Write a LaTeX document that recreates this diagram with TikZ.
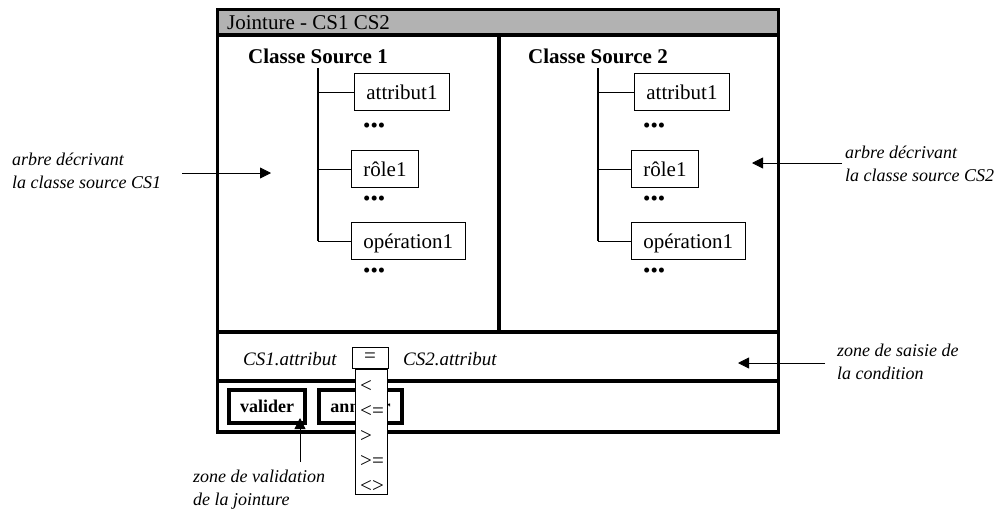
\documentclass[tikz,border=0pt]{standalone}
\usepackage{fontspec}
\setmainfont{Liberation Serif}
\usetikzlibrary{arrows.meta,positioning,calc}

\begin{document}
\begin{tikzpicture}[x=1pt,y=-1pt,>={Triangle[length=11pt,width=11pt]},
  frame/.style={line width=3.5pt},
  item/.style={draw,line width=0.8pt,anchor=west,font=\fontsize{21}{25}\selectfont,
    text height=15pt,text depth=0pt,minimum height=37pt,inner xsep=12pt},
  dots/.style={anchor=west,inner sep=0pt,font=\fontsize{21}{25}\selectfont},
  note/.style={align=left,anchor=base west,inner sep=0pt,font=\fontsize{18}{23}\selectfont\itshape},
  button/.style={draw,line width=3.5pt,minimum height=33pt,inner sep=0pt,
    font=\fontsize{18}{22}\selectfont\bfseries},
  choice/.style={anchor=west,inner sep=0pt,font=\fontsize{21}{25}\selectfont}]
  \useasboundingbox (0,0) rectangle (997,509);
  \draw[frame,fill=black!30] (217.5,9.5) rectangle (778.5,35);
  \node[anchor=base west,inner sep=0pt,font=\fontsize{21}{25}\selectfont] (title) at (227,29) {Jointure - CS1 CS2};
  \draw[frame] (217.5,35) rectangle (778.5,432);
  \draw[frame] (499,35) -- (499,332);
  \draw[frame] (217.5,332) -- (778.5,332);
  \draw[frame] (217.5,381) -- (778.5,381);
  \foreach \i/\dx in {1/0,2/280} {
    \node[anchor=base west,inner sep=0pt,font=\fontsize{21}{25}\selectfont\bfseries] (cs\i) at (248+\dx,63) {Classe Source \i};
    \node[item] (att\i) at (354+\dx,92) {attribut1};
    \node[item] (role\i) at (351+\dx,169) {rôle1};
    \node[item] (op\i) at (351+\dx,241) {opération1};
    \node[dots] (d\i a) at (363+\dx,128) {\textbullet\textbullet\textbullet};
    \node[dots] (d\i b) at (363+\dx,201) {\textbullet\textbullet\textbullet};
    \node[dots] (d\i c) at (363+\dx,273) {\textbullet\textbullet\textbullet};
    \coordinate (top\i) at (318+\dx,68);
    \coordinate (bot\i) at (318+\dx,241);
    \draw[line width=1.3pt] (top\i) -- (bot\i);
    \draw[line width=0.8pt] (top\i |- att\i) -- (att\i);
    \draw[line width=0.8pt] (top\i |- role\i) -- (role\i);
    \draw[line width=0.8pt] (bot\i) -- (op\i);
  }
  \node[anchor=base west,inner sep=0pt,font=\fontsize{19}{22}\selectfont\itshape] (lhs) at (243,365) {CS1.attribut};
  \node[draw,line width=0.8pt,minimum width=36pt,minimum height=21pt,inner sep=0pt,
    font=\fontsize{21}{25}\selectfont] (cmp) at (370,357.5) {=};
  \node[anchor=base west,inner sep=0pt,font=\fontsize{19}{22}\selectfont\itshape] (rhs) at (403,365) {CS2.attribut};
  \node[button,minimum width=76pt] (ok) at (267,406.5) {valider};
  \node[button,minimum width=83pt] (cancel) at (360.5,406.5) {annuler};
  \node[draw,fill=white,line width=0.8pt,minimum width=32pt,minimum height=125pt,
    anchor=north,inner sep=0pt] (list) at (371,369) {};
  \node[choice] (c1) at (360,386) {<};
  \node[choice] (c2) at (360,411) {<=};
  \node[choice] (c3) at (360,436) {>};
  \node[choice] (c4) at (360,461) {>=};
  \node[choice] (c5) at (360,486) {<>};
  \node[note] (n1) at (12,188) {arbre décrivant\\la classe source CS1};
  \node[note] (n2) at (845,181) {arbre décrivant\\la classe source CS2};
  \node[note] (n3) at (837,379) {zone de saisie de\\la condition};
  \node[note] (n4) at (193,505) {zone de validation\\de la jointure};
  \coordinate (t1) at (182,173);
  \coordinate (h1) at (271,173);
  \coordinate (t2) at (842,163);
  \coordinate (h2) at (752,163);
  \coordinate (t3) at (825,363);
  \coordinate (h3) at (738,363);
  \coordinate (t4) at (300,462);
  \coordinate (h4) at (300,418);
  \foreach \k in {1,...,4} \draw[->,line width=0.8pt] (t\k) -- (h\k);
\end{tikzpicture}
\end{document}
